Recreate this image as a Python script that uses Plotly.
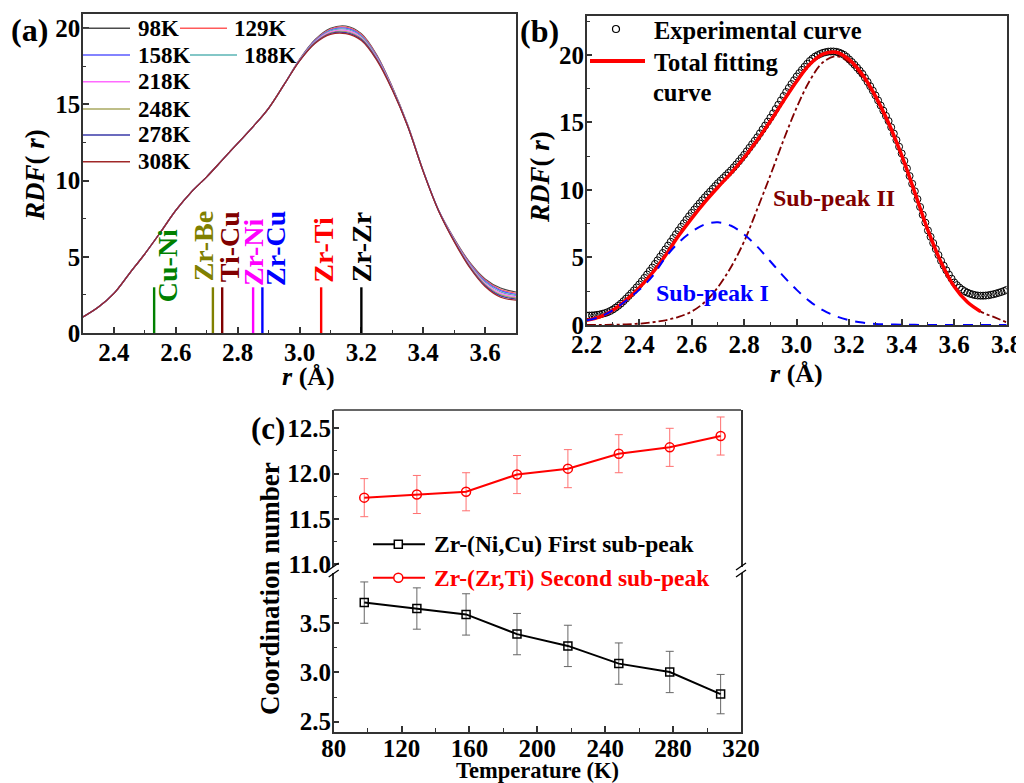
import numpy as np
import plotly.graph_objects as go

W, H = 1024, 783
OFF = 8  # page body margin offset
def fx(p): return (p - OFF) / W
def fy(p): return 1 - (p - OFF) / H

FONT = "Liberation Serif"

# ---------------- Panel (a) data ----------------
temps_a = ["98K", "129K", "158K", "188K", "218K", "248K", "278K", "308K"]
r_a_rise = [2.30, 2.35, 2.40, 2.45, 2.50, 2.55, 2.60, 2.65, 2.70, 2.75, 2.80, 2.85, 2.90, 2.95]
rdf_a_rise = [1.05, 1.70, 2.60, 3.90, 5.20, 6.60, 8.05, 9.25, 10.25, 11.35, 12.45, 13.55, 14.75, 16.30]
r_a_peak = [3.00, 3.05, 3.10, 3.15, 3.20, 3.25, 3.30, 3.35, 3.40, 3.45, 3.50, 3.55, 3.60, 3.65, 3.70]
rdf_a_98K  = [17.95, 19.25, 20.00, 20.15, 19.65, 18.25, 16.15, 13.65, 10.65, 8.05, 6.20, 4.65, 3.55, 2.95, 2.69]
rdf_a_129K = [17.94, 19.21, 19.94, 20.08, 19.59, 18.20, 16.12, 13.64, 10.64, 8.04, 6.17, 4.60, 3.48, 2.86, 2.61]
rdf_a_158K = [17.92, 19.18, 19.89, 20.01, 19.52, 18.15, 16.09, 13.62, 10.64, 8.04, 6.14, 4.55, 3.41, 2.78, 2.54]
rdf_a_188K = [17.91, 19.14, 19.83, 19.94, 19.46, 18.10, 16.06, 13.61, 10.63, 8.03, 6.11, 4.50, 3.34, 2.69, 2.46]
rdf_a_218K = [17.89, 19.11, 19.77, 19.86, 19.39, 18.05, 16.04, 13.59, 10.62, 8.02, 6.09, 4.45, 3.26, 2.61, 2.38]
rdf_a_248K = [17.88, 19.07, 19.71, 19.79, 19.33, 18.00, 16.01, 13.58, 10.61, 8.01, 6.06, 4.40, 3.19, 2.52, 2.30]
rdf_a_278K = [17.86, 19.04, 19.66, 19.72, 19.26, 17.95, 15.98, 13.56, 10.61, 8.01, 6.03, 4.35, 3.12, 2.44, 2.23]
rdf_a_308K = [17.85, 19.00, 19.60, 19.65, 19.20, 17.90, 15.95, 13.55, 10.60, 8.00, 6.00, 4.30, 3.05, 2.35, 2.15]
rdf_a_peaks = [rdf_a_98K, rdf_a_129K, rdf_a_158K, rdf_a_188K,
               rdf_a_218K, rdf_a_248K, rdf_a_278K, rdf_a_308K]

bond_names = ["Cu-Ni", "Zr-Be", "Ti-Cu", "Zr-Ni", "Zr-Cu", "Zr-Ti", "Zr-Zr"]
bond_r = [2.53, 2.72, 2.75, 2.85, 2.88, 3.07, 3.20]

# ---------------- Panel (b) data ----------------
r_b_exp = np.round(np.arange(2.20, 3.805, 0.01), 2)
rdf_b_exp = [0.70, 0.70, 0.71, 0.72, 0.75, 0.78,
             0.83, 0.88, 0.95, 1.04, 1.15,
             1.28, 1.42, 1.58, 1.76, 1.95,
             2.15, 2.35, 2.56, 2.78, 3.00,
             3.24, 3.49, 3.74, 4.00, 4.25,
             4.52, 4.79, 5.06, 5.33, 5.60,
             5.88, 6.16, 6.44, 6.72, 7.00,
             7.27, 7.53, 7.79, 8.05, 8.30,
             8.54, 8.77, 9.00, 9.23, 9.45,
             9.66, 9.87, 10.08, 10.29, 10.50,
             10.69, 10.88, 11.07, 11.26, 11.45,
             11.67, 11.89, 12.12, 12.36, 12.60,
             12.86, 13.12, 13.38, 13.64, 13.90,
             14.19, 14.48, 14.77, 15.06, 15.35,
             15.67, 15.99, 16.31, 16.63, 16.95,
             17.25, 17.55, 17.84, 18.12, 18.40,
             18.65, 18.89, 19.12, 19.34, 19.55,
             19.72, 19.87, 19.98, 20.07, 20.15,
             20.20, 20.24, 20.25, 20.25, 20.23,
             20.18, 20.10, 20.00, 19.85, 19.66,
             19.47, 19.27, 19.05, 18.83, 18.60,
             18.30, 18.00, 17.68, 17.35, 17.00,
             16.63, 16.25, 15.87, 15.48, 15.10,
             14.64, 14.17, 13.69, 13.20, 12.70,
             12.15, 11.59, 11.03, 10.46, 9.90,
             9.32, 8.74, 8.16, 7.58, 7.00,
             6.53, 6.07, 5.62, 5.18, 4.75,
             4.39, 4.05, 3.73, 3.43, 3.15,
             2.95, 2.77, 2.62, 2.50, 2.40,
             2.32, 2.26, 2.21, 2.18, 2.17,
             2.17, 2.18, 2.20, 2.24, 2.28,
             2.33, 2.39, 2.45, 2.52, 2.60]

r_b_fit = np.round(np.arange(2.20, 3.705, 0.05), 2)
rdf_b_fit = [0.35, 0.60, 1.10, 1.85, 2.75, 3.85, 5.15, 6.60, 7.90, 9.10,
             10.20, 11.25, 12.40, 13.70, 15.10, 16.60, 18.05, 19.30, 20.05, 20.20,
             19.65, 18.55, 16.95, 14.95, 12.55, 9.80, 7.00, 4.65, 2.85, 1.70, 1.00]

r_b_sub = np.round(np.arange(2.20, 3.805, 0.05), 2)
sub_peak_1 = [0.35, 0.60, 1.10, 1.80, 2.60, 3.60, 5.00, 6.10, 6.90, 7.45,
              7.60, 7.35, 6.70, 5.80, 4.70, 3.60, 2.60, 1.75, 1.10, 0.65,
              0.35, 0.18, 0.08, 0.04, 0.02, 0.01, 0.0, 0.0, 0.0, 0.0, 0.0, 0.0, 0.0]
sub_peak_2 = [0.0, 0.0, 0.02, 0.05, 0.10, 0.20, 0.35, 0.60, 1.00, 1.70,
              2.80, 4.30, 6.20, 8.60, 11.10, 13.70, 16.10, 18.10, 19.45, 19.90,
              19.45, 18.35, 16.80, 14.80, 12.50, 9.80, 7.00, 4.65, 2.85, 1.70,
              1.00, 0.60, 0.20]

# ---------------- Panel (c) data ----------------
temps_c = [98, 129, 158, 188, 218, 248, 278, 308]
cn_first = [3.71, 3.65, 3.59, 3.39, 3.27, 3.09, 3.005, 2.78]
cn_first_err = [0.21, 0.21, 0.21, 0.21, 0.21, 0.21, 0.21, 0.20]
cn_second = [11.735, 11.77, 11.80, 11.99, 12.055, 12.22, 12.29, 12.415]
cn_second_err = [0.21, 0.21, 0.21, 0.21, 0.21, 0.21, 0.21, 0.21]
ticks_c_low = [2.5, 3.0, 3.5]
ticks_c_high = [11.0, 11.5, 12.0, 12.5]

# ---------------- styles ----------------
colors_a = ["#4a4a4a", "#ff5a5a", "#5a5aff", "#5ab4b4", "#ff6aff", "#a8a860", "#3a3aa8", "#a02828"]
bond_colors = ["#008000", "#808000", "#800000", "#ff00ff", "#0000ff", "#ff0000", "#000000"]
bond_label_y = [1.93, 3.35, 3.25, 3.02, 3.02, 3.25, 3.25]
bond_label_shift = [13, -9, 8, 1, 13, 2, 1]

fig = go.Figure()

r_a_full = r_a_rise + r_a_peak
for name, vals, col in zip(temps_a, rdf_a_peaks, colors_a):
    fig.add_trace(go.Scatter(x=r_a_full, y=rdf_a_rise + vals, mode="lines",
                             line=dict(color=col, width=1.2, shape="spline"),
                             name=name, xaxis="x", yaxis="y", showlegend=False))

# panel (b)
fig.add_trace(go.Scatter(x=r_b_exp, y=rdf_b_exp, mode="markers",
                         marker=dict(symbol="circle-open", size=7, color="black",
                                     line=dict(width=1, color="black")),
                         xaxis="x2", yaxis="y2", showlegend=False))
fig.add_trace(go.Scatter(x=r_b_sub, y=sub_peak_2, mode="lines",
                         line=dict(color="#800000", width=1.8, dash="dashdot", shape="spline"),
                         xaxis="x2", yaxis="y2", showlegend=False))
fig.add_trace(go.Scatter(x=r_b_fit, y=rdf_b_fit, mode="lines",
                         line=dict(color="#ff0000", width=3.5, shape="spline"),
                         xaxis="x2", yaxis="y2", showlegend=False))
fig.add_trace(go.Scatter(x=r_b_sub, y=sub_peak_1, mode="lines",
                         line=dict(color="#0000ff", width=2, dash="10px,8px", shape="spline"),
                         xaxis="x2", yaxis="y2", showlegend=False))

# panel (c)
fig.add_trace(go.Scatter(x=temps_c, y=cn_first, mode="lines+markers",
                         line=dict(color="black", width=2),
                         marker=dict(symbol="square-open", size=8, color="black",
                                     line=dict(width=1.5)),
                         error_y=dict(type="data", array=cn_first_err, color="#666666",
                                      thickness=1, width=4),
                         xaxis="x3", yaxis="y3", showlegend=False))
fig.add_trace(go.Scatter(x=temps_c, y=cn_second, mode="lines+markers",
                         line=dict(color="#ff0000", width=2),
                         marker=dict(symbol="circle-open", size=9, color="#ff0000",
                                     line=dict(width=1.5)),
                         error_y=dict(type="data", array=cn_second_err, color="#ff7070",
                                      thickness=1, width=4),
                         xaxis="x3", yaxis="y4", showlegend=False))

TICKFONT = dict(family=FONT, size=25, color="black", weight="bold")
def minor(dt):
    return dict(ticks="inside", ticklen=3.5, tickwidth=1.2, dtick=dt, tickcolor="#333333")

def axis_style(**kw):
    d = dict(showline=True, linecolor="#333333", linewidth=1.5, mirror=True,
             ticks="inside", ticklen=6, tickwidth=1.5, tickcolor="#333333",
             showgrid=False, zeroline=False, tickfont=TICKFONT, automargin=False)
    d.update(kw)
    return d

XSO = -4   # x tick label standoff
YSO = -4   # y tick label standoff

layout = dict(
    width=W, height=H, margin=dict(l=0, r=0, t=0, b=0, pad=0),
    paper_bgcolor="white", plot_bgcolor="white",
    font=dict(family=FONT, size=23, color="black", weight="bold"),
    showlegend=False,
    xaxis=axis_style(domain=[fx(83), fx(516)], range=[2.3, 3.7], anchor="y",
                     tick0=2.4, dtick=0.2, minor=minor(0.1), tickformat=".1f",
                     ticklabelstandoff=XSO),
    yaxis=axis_style(domain=[fy(333), fy(14)], range=[0, 20.94], anchor="x",
                     dtick=5, minor=minor(2.5), ticklabelstandoff=YSO),
    xaxis2=axis_style(domain=[fx(586.7), fx(1006.7)], range=[2.2, 3.8], anchor="y2",
                      tick0=2.2, dtick=0.2, minor=minor(0.1), tickformat=".1f",
                      ticklabelstandoff=XSO),
    yaxis2=axis_style(domain=[fy(325), fy(15.7)], range=[0, 22.9], anchor="x2",
                      dtick=5, minor=minor(2.5), ticklabelstandoff=YSO),
    xaxis3=axis_style(domain=[fx(333.7), fx(741)], range=[80, 320], anchor="y3",
                      mirror=False, tick0=80, dtick=40, minor=minor(20),
                      ticklabelstandoff=-6),
    yaxis3=axis_style(domain=[fy(731.7), fy(573)], range=[2.398, 4.011], anchor="x3",
                      tickmode="array", tickvals=ticks_c_low, tickformat=".1f",
                      minor=dict(ticks="inside", ticklen=3.5, tickwidth=1.2,
                                 tickmode="array", tickvals=[2.75, 3.25, 3.75],
                                 tickcolor="#333333"),
                      ticklabelstandoff=YSO),
    yaxis4=axis_style(domain=[fy(567), fy(410)], range=[10.97, 12.702], anchor="x3",
                      tickmode="array", tickvals=ticks_c_high, tickformat=".1f",
                      minor=dict(ticks="inside", ticklen=3.5, tickwidth=1.2,
                                 tickmode="array", tickvals=[11.25, 11.75, 12.25],
                                 tickcolor="#333333"),
                      ticklabelstandoff=YSO),
)
fig.update_layout(**layout)

annotations = []
shapes = []

def text(t, x, y, size=23, color="black", xanchor="left", yanchor="middle", angle=0):
    annotations.append(dict(text=t, x=fx(x), y=fy(y), xref="paper", yref="paper",
                            showarrow=False, xanchor=xanchor, yanchor=yanchor,
                            textangle=angle, borderpad=0,
                            font=dict(family=FONT, size=size, color=color, weight="bold")))

def pline(x0, y0, x1, y1, color="black", width=1.5, dash="solid"):
    shapes.append(dict(type="line", xref="paper", yref="paper",
                       x0=fx(x0), y0=fy(y0), x1=fx(x1), y1=fy(y1),
                       line=dict(color=color, width=width, dash=dash)))

# panel labels
text("(a)", 29, 30, size=32, xanchor="center")
text("(b)", 539, 31, size=32, xanchor="center")
text("(c)", 268, 428, size=31, xanchor="center")

# axis titles
text("<i>RDF</i>( <i>r</i>)", 35, 175, size=27, xanchor="center", angle=-90)
text("<i>r</i> (Å)", 308, 376, size=26, xanchor="center")
text("<i>RDF</i>( <i>r</i>)", 540, 177, size=27, xanchor="center", angle=-90)
text("<i>r</i> (Å)", 796, 374, size=26, xanchor="center")
text("Coordination number", 270, 589, size=27, xanchor="center", angle=-90)
text("Temperature (K)", 537, 770, size=22.5, xanchor="center")

# panel (a) legend
legend_a_pos = [(83, 130, 137, 28.3), (180, 227, 233, 28.3),
                (83, 130, 137, 55), (190, 237, 243, 55),
                (83, 130, 137, 81.7), (83, 130, 137, 109),
                (83, 130, 137, 135), (83, 130, 137, 161.7)]
for name, col, (lx0, lx1, tx, ty) in zip(temps_a, colors_a, legend_a_pos):
    pline(lx0, ty, lx1, ty, color=col, width=1.5)
    text(name, tx, ty, size=23)

# bond-length markers (a)
for name, r, col, ly, sh in zip(bond_names, bond_r, bond_colors, bond_label_y, bond_label_shift):
    shapes.append(dict(type="line", xref="x", yref="y", x0=r, x1=r, y0=0, y1=3.0,
                       line=dict(color=col, width=2.4)))
    annotations.append(dict(text=name, x=r, y=ly, xref="x", yref="y", xshift=sh,
                            showarrow=False, xanchor="center", yanchor="bottom",
                            textangle=-90, borderpad=0,
                            font=dict(family=FONT, size=28, color=col, weight="bold")))

# panel (b) legend and labels
shapes.append(dict(type="circle", xref="paper", yref="paper",
                   x0=fx(612.5), x1=fx(619.5), y0=fy(32.5), y1=fy(25.5),
                   line=dict(color="black", width=1.2), fillcolor="white"))
text("Experimental curve", 653, 30, size=24.5)
pline(590, 61, 645, 61, color="#ff0000", width=4)
text("Total fitting", 653, 62, size=24.5)
text("curve", 652, 92, size=24.5)
text("Sub-peak I", 655, 293, size=24, color="#0000ff")
text("Sub-peak II", 772, 198, size=24, color="#800000")

# panel (c) legend
pline(373, 544.3, 425, 544.3, color="black", width=2)
shapes.append(dict(type="rect", xref="paper", yref="paper",
                   x0=fx(394.3), x1=fx(402.3), y0=fy(548.3), y1=fy(540.3),
                   line=dict(color="black", width=1.5), fillcolor="white"))
text("Zr-(Ni,Cu) First sub-peak", 433, 544.3, size=23.5)
pline(373, 577.7, 425, 577.7, color="#ff0000", width=2)
shapes.append(dict(type="circle", xref="paper", yref="paper",
                   x0=fx(393.8), x1=fx(402.8), y0=fy(582.2), y1=fy(573.2),
                   line=dict(color="#ff0000", width=1.5), fillcolor="white"))
text("Zr-(Zr,Ti) Second sub-peak", 433, 577.7, size=23.5, color="#ff0000")

# panel (c) top frame and axis breaks
pline(333.7, 410, 741, 410, color="#333333", width=1.5)
for bx in (333.7, 741):
    pline(bx - 5, 570, bx + 5, 563, color="black", width=1.3)
    pline(bx - 5, 577, bx + 5, 570, color="black", width=1.3)

fig.update_layout(annotations=annotations, shapes=shapes)
fig.write_html("out.html")
